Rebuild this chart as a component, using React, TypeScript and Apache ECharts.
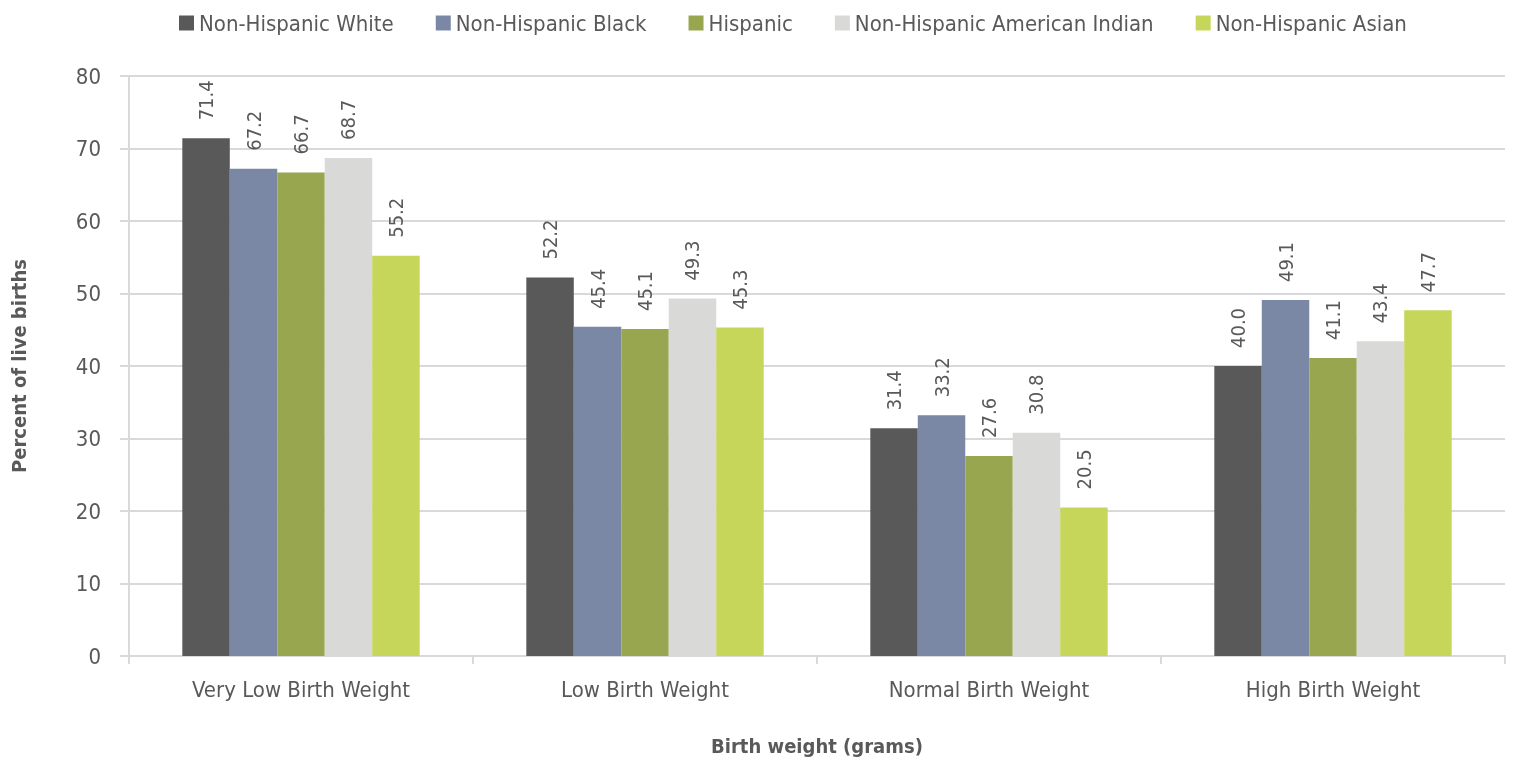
import React, { useEffect, useRef } from "react";
import * as echarts from "echarts";

const categories = ["Very Low Birth Weight", "Low Birth Weight", "Normal Birth Weight", "High Birth Weight"];
const seriesNames = ["Non-Hispanic White", "Non-Hispanic Black", "Hispanic", "Non-Hispanic American Indian", "Non-Hispanic Asian"];
const colors = ["#595959", "#7a88a5", "#98a650", "#d9d9d8", "#c6d65b"];
const whiteVals = [71.4, 52.2, 31.4, 40.0];
const blackVals = [67.2, 45.4, 33.2, 49.1];
const hispanicVals = [66.7, 45.1, 27.6, 41.1];
const aianVals = [68.7, 49.3, 30.8, 43.4];
const asianVals = [55.2, 45.3, 20.5, 47.7];
const allVals = [whiteVals, blackVals, hispanicVals, aianVals, asianVals];

const FONT = "'Liberation Sans Narrow', 'DejaVu Sans Condensed', 'Roboto', sans-serif";
const TXT = "#595959";

export default function App() {
  const ref = useRef<HTMLDivElement>(null);
  useEffect(() => {
    const chart = echarts.init(ref.current!, null, { renderer: "svg" });
    chart.setOption({
      animation: false,
      textStyle: { fontFamily: FONT },
      legend: {
        top: 7,
        left: 174,
        itemWidth: 15,
        itemHeight: 15,
        itemGap: 42,
        icon: "rect",
        textStyle: { fontFamily: FONT, fontSize: 22, color: TXT },
        data: seriesNames,
      },
      grid: { left: 129, right: 9, top: 76, bottom: 108 },
      xAxis: {
        type: "category",
        data: categories,
        axisLine: { lineStyle: { color: "#d9d9d9", width: 2 } },
        axisTick: { show: true, length: 8, lineStyle: { color: "#d9d9d9", width: 2 } },
        axisLabel: { fontFamily: FONT, fontSize: 22, color: TXT, margin: 22 },
        name: "Birth weight (grams)",
        nameLocation: "middle",
        nameGap: 80,
        nameTextStyle: { fontFamily: FONT, fontSize: 20, fontWeight: "bold", color: TXT },
      },
      yAxis: {
        type: "value",
        min: 0,
        max: 80,
        interval: 10,
        axisLine: { show: true, lineStyle: { color: "#d9d9d9", width: 2 } },
        axisTick: { show: true, length: 9, lineStyle: { color: "#d9d9d9", width: 2 } },
        splitLine: { lineStyle: { color: "#d9d9d9", width: 2 } },
        axisLabel: { fontFamily: FONT, fontSize: 22, color: TXT, margin: 28 },
        name: "Percent of live births",
        nameLocation: "middle",
        nameGap: 100,
        nameRotate: 90,
        nameTextStyle: { fontFamily: FONT, fontSize: 20, fontWeight: "bold", color: TXT },
      },
      series: seriesNames.map((name, i) => ({
        name,
        type: "bar",
        data: allVals[i],
        barGap: "0%",
        barCategoryGap: "31%",
        itemStyle: { color: colors[i] },
        label: {
          show: true,
          position: "top",
          rotate: 90,
          align: "left",
          verticalAlign: "middle",
          distance: 18,
          fontFamily: FONT,
          fontSize: 20,
          color: TXT,
          formatter: (p: any) => Number(p.value).toFixed(1),
        },
      })),
    });
    return () => chart.dispose();
  }, []);
  return <div ref={ref} style={{ position: "fixed", left: 0, top: 0, width: 1514, height: 764 }} />;
}
